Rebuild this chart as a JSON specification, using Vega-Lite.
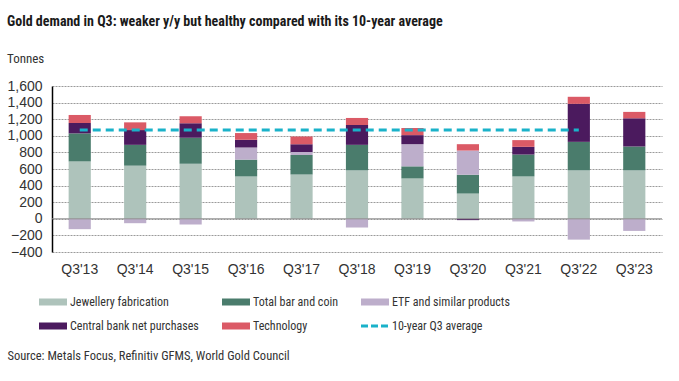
{
  "$schema": "https://vega.github.io/schema/vega-lite/v6.json",
  "width": 610,
  "height": 166,
  "autosize": {"type": "none"},
  "padding": {"left": 52, "top": 86, "right": 17, "bottom": 129},
  "background": "white",
  "title": {
    "text": "Gold demand in Q3: weaker y/y but healthy compared with its 10-year average",
    "subtitle": "Tonnes",
    "anchor": "start",
    "frame": "group",
    "dx": -45,
    "offset": 13,
    "font": "Roboto Condensed, DejaVu Sans Condensed, Roboto",
    "fontSize": 14,
    "fontWeight": "bold",
    "color": "#1a1a1a",
    "subtitleFont": "Roboto Condensed, DejaVu Sans Condensed, Roboto",
    "subtitleFontSize": 13,
    "subtitleColor": "#333333",
    "subtitlePadding": 24
  },
  "config": {
    "view": {"stroke": null},
    "axis": {"labelFont": "Liberation Sans", "labelFontSize": 14, "labelColor": "#333333", "labelOverlap": false},
    "axisY": {
      "title": null,
      "labelOverlap": false,
      "ticks": false,
      "labelPadding": 10,
      "domain": true,
      "domainColor": "#000000",
      "domainWidth": 1.5,
      "grid": true,
      "gridColor": "#9a9a9a",
      "gridDash": [2, 1],
      "gridWidth": 1
    }
  },
  "datasets": {
    "demand": [
      {"q": "Q3'13", "cat": "Jewellery fabrication", "ord": 1, "v": 692},
      {"q": "Q3'13", "cat": "Total bar and coin", "ord": 2, "v": 337},
      {"q": "Q3'13", "cat": "ETF and similar products", "ord": 3, "v": -125},
      {"q": "Q3'13", "cat": "Central bank net purchases", "ord": 4, "v": 125},
      {"q": "Q3'13", "cat": "Technology", "ord": 5, "v": 97},
      {"q": "Q3'14", "cat": "Jewellery fabrication", "ord": 1, "v": 640},
      {"q": "Q3'14", "cat": "Total bar and coin", "ord": 2, "v": 251},
      {"q": "Q3'14", "cat": "ETF and similar products", "ord": 3, "v": -53},
      {"q": "Q3'14", "cat": "Central bank net purchases", "ord": 4, "v": 178},
      {"q": "Q3'14", "cat": "Technology", "ord": 5, "v": 93},
      {"q": "Q3'15", "cat": "Jewellery fabrication", "ord": 1, "v": 664},
      {"q": "Q3'15", "cat": "Total bar and coin", "ord": 2, "v": 312},
      {"q": "Q3'15", "cat": "ETF and similar products", "ord": 3, "v": -69},
      {"q": "Q3'15", "cat": "Central bank net purchases", "ord": 4, "v": 174},
      {"q": "Q3'15", "cat": "Technology", "ord": 5, "v": 85},
      {"q": "Q3'16", "cat": "Jewellery fabrication", "ord": 1, "v": 510},
      {"q": "Q3'16", "cat": "Total bar and coin", "ord": 2, "v": 203},
      {"q": "Q3'16", "cat": "ETF and similar products", "ord": 3, "v": 146},
      {"q": "Q3'16", "cat": "Central bank net purchases", "ord": 4, "v": 93},
      {"q": "Q3'16", "cat": "Technology", "ord": 5, "v": 81},
      {"q": "Q3'17", "cat": "Jewellery fabrication", "ord": 1, "v": 535},
      {"q": "Q3'17", "cat": "Total bar and coin", "ord": 2, "v": 235},
      {"q": "Q3'17", "cat": "ETF and similar products", "ord": 3, "v": 36},
      {"q": "Q3'17", "cat": "Central bank net purchases", "ord": 4, "v": 93},
      {"q": "Q3'17", "cat": "Technology", "ord": 5, "v": 93},
      {"q": "Q3'18", "cat": "Jewellery fabrication", "ord": 1, "v": 583},
      {"q": "Q3'18", "cat": "Total bar and coin", "ord": 2, "v": 308},
      {"q": "Q3'18", "cat": "ETF and similar products", "ord": 3, "v": -105},
      {"q": "Q3'18", "cat": "Central bank net purchases", "ord": 4, "v": 239},
      {"q": "Q3'18", "cat": "Technology", "ord": 5, "v": 85},
      {"q": "Q3'19", "cat": "Jewellery fabrication", "ord": 1, "v": 486},
      {"q": "Q3'19", "cat": "Total bar and coin", "ord": 2, "v": 146},
      {"q": "Q3'19", "cat": "ETF and similar products", "ord": 3, "v": 267},
      {"q": "Q3'19", "cat": "Central bank net purchases", "ord": 4, "v": 109},
      {"q": "Q3'19", "cat": "Technology", "ord": 5, "v": 86},
      {"q": "Q3'20", "cat": "Jewellery fabrication", "ord": 1, "v": 304},
      {"q": "Q3'20", "cat": "Total bar and coin", "ord": 2, "v": 227},
      {"q": "Q3'20", "cat": "ETF and similar products", "ord": 3, "v": 291},
      {"q": "Q3'20", "cat": "Central bank net purchases", "ord": 4, "v": -16},
      {"q": "Q3'20", "cat": "Technology", "ord": 5, "v": 77},
      {"q": "Q3'21", "cat": "Jewellery fabrication", "ord": 1, "v": 510},
      {"q": "Q3'21", "cat": "Total bar and coin", "ord": 2, "v": 264},
      {"q": "Q3'21", "cat": "ETF and similar products", "ord": 3, "v": -32},
      {"q": "Q3'21", "cat": "Central bank net purchases", "ord": 4, "v": 93},
      {"q": "Q3'21", "cat": "Technology", "ord": 5, "v": 81},
      {"q": "Q3'22", "cat": "Jewellery fabrication", "ord": 1, "v": 583},
      {"q": "Q3'22", "cat": "Total bar and coin", "ord": 2, "v": 344},
      {"q": "Q3'22", "cat": "ETF and similar products", "ord": 3, "v": -251},
      {"q": "Q3'22", "cat": "Central bank net purchases", "ord": 4, "v": 458},
      {"q": "Q3'22", "cat": "Technology", "ord": 5, "v": 85},
      {"q": "Q3'23", "cat": "Jewellery fabrication", "ord": 1, "v": 583},
      {"q": "Q3'23", "cat": "Total bar and coin", "ord": 2, "v": 288},
      {"q": "Q3'23", "cat": "ETF and similar products", "ord": 3, "v": -146},
      {"q": "Q3'23", "cat": "Central bank net purchases", "ord": 4, "v": 340},
      {"q": "Q3'23", "cat": "Technology", "ord": 5, "v": 77}
    ],
    "avg": [
      {"q": "Q3'13", "cat": "10-year Q3 average", "v": 1070},
      {"q": "Q3'14", "cat": "10-year Q3 average", "v": 1070},
      {"q": "Q3'15", "cat": "10-year Q3 average", "v": 1070},
      {"q": "Q3'16", "cat": "10-year Q3 average", "v": 1070},
      {"q": "Q3'17", "cat": "10-year Q3 average", "v": 1070},
      {"q": "Q3'18", "cat": "10-year Q3 average", "v": 1070},
      {"q": "Q3'19", "cat": "10-year Q3 average", "v": 1070},
      {"q": "Q3'20", "cat": "10-year Q3 average", "v": 1070},
      {"q": "Q3'21", "cat": "10-year Q3 average", "v": 1070},
      {"q": "Q3'22", "cat": "10-year Q3 average", "v": 1070}
    ]
  },
  "layer": [
    {
      "data": {"name": "demand"},
      "mark": {"type": "bar"},
      "encoding": {
        "x": {
          "field": "q",
          "type": "nominal",
          "sort": null,
          "scale": {"paddingInner": 0.6, "paddingOuter": 0.3},
          "axis": {
            "title": "Source: Metals Focus, Refinitiv GFMS, World Gold Council",
            "titleFont": "Roboto Condensed, DejaVu Sans Condensed, Roboto",
            "titleFontSize": 12.5,
            "titleFontWeight": "normal",
            "titleColor": "#333333",
            "titleAnchor": "start",
            "titleAlign": "left",
            "titleBaseline": "middle",
            "titleX": -45,
            "titleY": 103,
            "labelAngle": 0,
            "labelPadding": 10,
            "ticks": false,
            "domain": false,
            "grid": false
          }
        },
        "y": {
          "field": "v",
          "type": "quantitative",
          "stack": "zero",
          "scale": {"domain": [-400, 1600], "nice": false},
          "axis": {"values": [-400, -200, 0, 200, 400, 600, 800, 1000, 1200, 1400, 1600], "format": ",d", "labelOverlap": false}
        },
        "order": {"field": "ord", "type": "quantitative"},
        "color": {
          "field": "cat",
          "type": "nominal",
          "scale": {
            "domain": ["Jewellery fabrication", "Total bar and coin", "ETF and similar products", "Central bank net purchases", "Technology", "10-year Q3 average"],
            "range": ["#aec3bb", "#4a7c6c", "#bdaecb", "#4b1a5e", "#db5a66", "#1ab2c9"]
          },
          "legend": {
            "title": null,
            "orient": "none",
            "legendX": -5,
            "legendY": 210,
            "direction": "horizontal",
            "columns": 3,
            "columnPadding": 9,
            "rowPadding": -4,
            "symbolType": "stroke",
            "symbolSize": 784,
            "symbolStrokeWidth": 7,
            "labelOffset": 11,
            "labelFont": "Roboto Condensed, DejaVu Sans Condensed, Roboto",
            "labelFontSize": 12,
            "labelColor": "#333333",
            "labelLimit": 300,
            "encode": {
              "symbols": {
                "update": {
                  "stroke": {"scale": "color", "field": "value"},
                  "strokeWidth": {"signal": "datum.value === '10-year Q3 average' ? 3 : 7"},
                  "strokeDash": {"signal": "datum.value === '10-year Q3 average' ? [7, 3] : [1, 0]"},
                  "opacity": {"value": 1}
                }
              }
            }
          }
        }
      }
    },
    {
      "data": {"values": [{"z": 0}]},
      "mark": {"type": "rule", "color": "#8c8c8c", "strokeWidth": 1},
      "encoding": {
        "y": {"datum": 0, "type": "quantitative",
          "axis": {"values": [-400, -200, 0, 200, 400, 600, 800, 1000, 1200, 1400, 1600], "format": ",d", "labelOverlap": false}}
      }
    },
    {
      "data": {"name": "avg"},
      "mark": {"type": "line", "strokeWidth": 3, "strokeDash": [8, 5]},
      "encoding": {
        "x": {"field": "q", "type": "nominal", "sort": null},
        "y": {"field": "v", "type": "quantitative",
          "axis": {"values": [-400, -200, 0, 200, 400, 600, 800, 1000, 1200, 1400, 1600], "format": ",d", "labelOverlap": false}},
        "color": {"field": "cat", "type": "nominal"}
      }
    }
  ]
}
